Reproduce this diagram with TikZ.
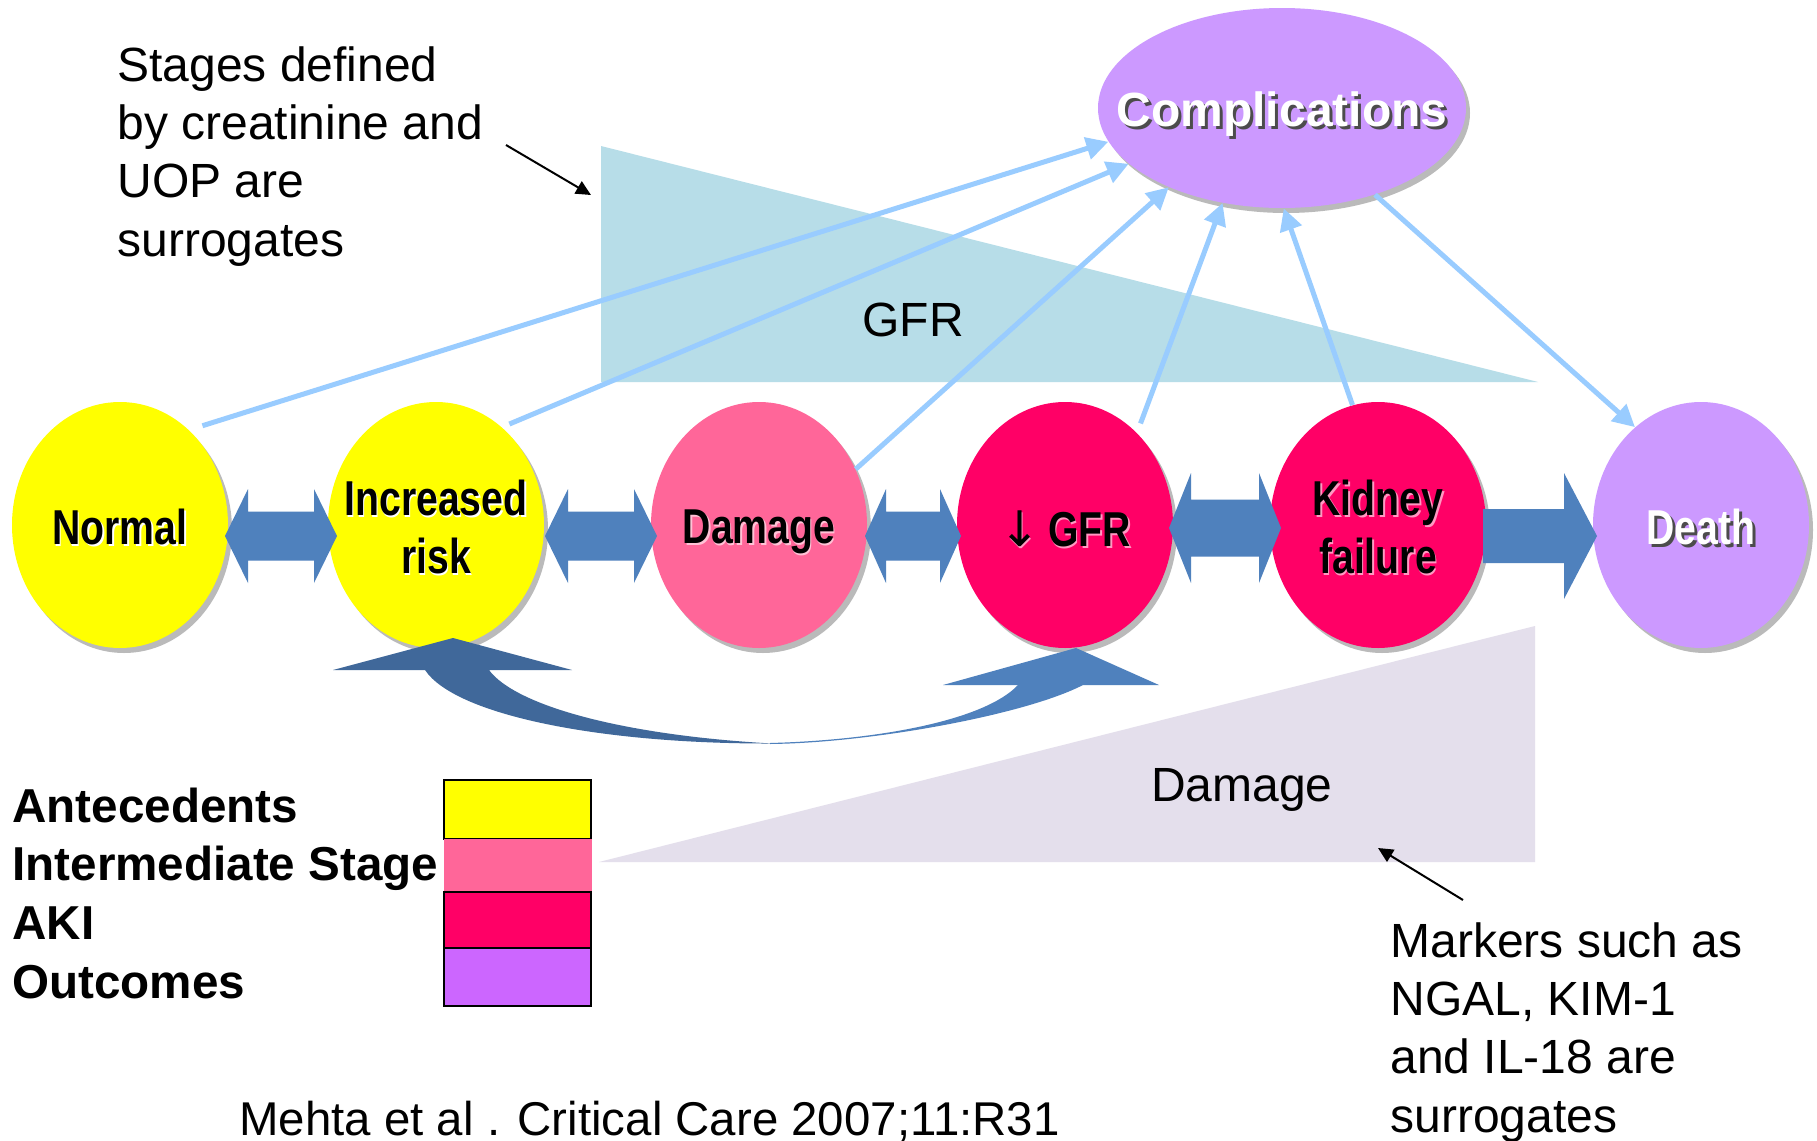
\documentclass[tikz,border=0pt]{standalone}
\usepackage{fontspec}
\setmainfont{Liberation Sans}
\newfontface\nbold[FakeStretch=0.8]{Liberation Sans Bold}
\newfontface\arrowfont{DejaVu Sans}
\usetikzlibrary{arrows.meta,calc,shadows,shapes.geometric}
\definecolor{yellowc}{HTML}{FFFF00}
\definecolor{pinkc}{HTML}{FF6699}
\definecolor{akic}{HTML}{FF0066}
\definecolor{purplec}{HTML}{CC99FF}
\definecolor{legpurple}{HTML}{CC66FF}
\definecolor{fatblue}{HTML}{4F81BD}
\definecolor{darkfat}{HTML}{40689A}
\definecolor{connblue}{HTML}{99CCFF}
\definecolor{gfrtri}{HTML}{B7DDE8}
\definecolor{dmgtri}{HTML}{E4DFEC}
% double fat arrow: #1 left tip, #2 right tip, #3 head length, #4 head half height, #5 shaft half height
\newcommand\dblfat[5]{%
  \fill[fatblue] (#1) -- ($(#1)+(#3,-#4)$) -- ($(#1)+(#3,-#5)$) -- ($(#2)+(-#3,-#5)$)
    -- ($(#2)+(-#3,-#4)$) -- (#2) -- ($(#2)+(-#3,#4)$) -- ($(#2)+(-#3,#5)$)
    -- ($(#1)+(#3,#5)$) -- ($(#1)+(#3,#4)$) -- cycle;}
\begin{document}
\begin{tikzpicture}[x=0.5pt,y=-0.5pt,
  stage/.style={ellipse,inner sep=0pt,minimum width=108pt,minimum height=123pt,
    drop shadow={shadow xshift=2pt,shadow yshift=-2.5pt,fill=black!27,opacity=1}},
  lbl/.style={font=\nbold\fontsize{24.5}{29}\selectfont,align=center,inner sep=0pt},
  conn/.style={draw=connblue,line width=2.5pt,-{Triangle[length=11pt,width=11pt]}},
  ann/.style={draw=black,line width=1pt,-{Triangle[length=7.5pt,width=7pt]}},
  txt/.style={font=\fontsize{24}{29.2}\selectfont,inner sep=0pt,anchor=base west},
  legtxt/.style={font=\bfseries\fontsize{23.8}{29.35}\selectfont,inner sep=0pt,anchor=base west},
  swatch/.style={draw=black,line width=1pt}
]
\fill[white] (0,0) rectangle (1817,1141);
\useasboundingbox (0,0) rectangle (1817,1141);

% background triangles
\fill[gfrtri] (601,146) -- (601,382) -- (1538,382) -- cycle;
\fill[dmgtri] (599,862) -- (1535,626) -- (1535,862) -- cycle;
\node[font=\fontsize{24}{29}\selectfont,inner sep=0pt] (gfrlabel) at (913,320) {GFR};
\node[font=\fontsize{24}{29}\selectfont,inner sep=0pt] (dmglabel) at (1242,790) {Damage};

% stages
\node[stage,fill=yellowc] (normal) at (120,525) {};
\node[stage,fill=yellowc] (incr) at (436,525) {};
\node[stage,fill=pinkc] (dmg) at (759,525) {};
\node[stage,fill=akic] (gfr) at (1065,525) {};
\node[stage,fill=akic] (kid) at (1378,525) {};
\node[stage,fill=purplec] (death) at (1701,525) {};
\node[stage,fill=purplec,minimum width=184pt,minimum height=100pt] (comp) at (1282,108) {};

% stage labels
\node[lbl,text=white] (normal-sh) at ($(normal.center)+(1.5,3.5)$) {Normal};
\node[lbl] (normal-t) at ($(normal.center)+(0,2)$) {Normal};
\node[lbl,text=white] (incr-sh) at ($(incr.center)+(1.5,3.5)$) {Increased\\risk};
\node[lbl] (incr-t) at ($(incr.center)+(0,2)$) {Increased\\risk};
\node[lbl,text=white!60!pinkc] (dmg-sh) at ($(dmg.center)+(1.5,8.5)$) {Damage};
\node[lbl] (dmg-t) at ($(dmg.center)+(0,7)$) {Damage};
\node[lbl,text=white!60!akic] (gfr-sh) at ($(gfr.center)+(1.5,5.5)$) {{\arrowfont ↓}\,GFR};
\node[lbl] (gfr-t) at ($(gfr.center)+(0,4)$) {{\arrowfont ↓}\,GFR};
\node[lbl,text=white!60!akic] (kid-sh) at ($(kid.center)+(1.5,3.5)$) {Kidney\\failure};
\node[lbl] (kid-t) at ($(kid.center)+(0,2)$) {Kidney\\failure};
\node[lbl,text=black!70] (death-sh) at ($(death.center)+(3,5)$) {Death};
\node[lbl,text=white] (death-t) at ($(death.center)+(0,2)$) {Death};
\node[lbl,font=\bfseries\fontsize{24}{29}\selectfont,text=black!70] (comp-sh) at ($(comp.center)+(3,9)$) {Complications};
\node[lbl,font=\bfseries\fontsize{24}{29}\selectfont,text=white] (comp-t) at ($(comp.center)+(0,6)$) {Complications};

% fat horizontal arrows
\coordinate (a1l) at (225,536); \coordinate (a1r) at (337,536);
\coordinate (a2l) at (545,536); \coordinate (a2r) at (657,536);
\coordinate (a3l) at (865,536); \coordinate (a3r) at (961,536);
\coordinate (a4l) at (1169,528); \coordinate (a4r) at (1281,528);
\dblfat{a1l}{a1r}{23}{47}{24.5}
\dblfat{a2l}{a2r}{23}{47}{24.5}
\dblfat{a3l}{a3r}{21}{47}{24.5}
\dblfat{a4l}{a4r}{22}{55}{28.5}
\coordinate (a5t) at (1597,536);
\fill[fatblue] (1483,509) -- (1564,509) -- (1564,473) -- (a5t) -- (1564,599) -- (1564,563) -- (1483,563) -- cycle;

% curved arrow below
\fill[darkfat] (333,670) -- (453,638) -- (572,670) -- (489,670)
  .. controls (515,705) and (620,735) .. (772,743.5)
  .. controls (600,744) and (455,715) .. (425,670) -- cycle;
\fill[fatblue] (770,744) .. controls (870,743) and (1025,715) .. (1083,685)
  -- (1159,685) -- (1076,648) -- (943,685) -- (1018,685)
  .. controls (985,720) and (880,740) .. (770,743) -- cycle;

% connectors to complications
\draw[conn,shorten <=7pt] (normal.54) -- (comp.191);
\draw[conn,shorten <=4pt] (incr.56) -- (comp.200);
\draw[conn] (dmg.30) -- (comp.215);
\draw[conn,shorten <=5pt] (gfr.52) -- (comp.238);
\draw[conn] (kid.102) -- (comp.271);
\draw[conn] (comp.317) -- (death.124);

% annotations
\node[txt] (stages) at (117,81) {\parbox[t]{300pt}{Stages defined\\by creatinine and\\UOP are\\surrogates}};
\coordinate (ann1s) at (506,145); \coordinate (ann1e) at (591,195);
\draw[ann] (ann1s) -- (ann1e);
\node[txt] (markers) at (1390,957) {\parbox[t]{300pt}{Markers such as\\NGAL, KIM-1\\and IL-18 are\\surrogates}};
\coordinate (ann2s) at (1463,900); \coordinate (ann2e) at (1378,848);
\draw[ann] (ann2s) -- (ann2e);
\node[txt,font=\fontsize{23.7}{29}\selectfont] (cite) at (239,1135) {Mehta et al . Critical Care 2007;11:R31};

% legend
\node[legtxt] (legend) at (12,822) {\parbox[t]{300pt}{Antecedents\\Intermediate Stage\\AKI\\Outcomes}};
\draw[swatch,fill=yellowc] (444,780) rectangle (591,839);
\fill[pinkc] (444,839) rectangle (592,892);
\draw[swatch,fill=akic] (444,892) rectangle (591,948);
\draw[swatch,fill=legpurple] (444,948) rectangle (591,1006);
\end{tikzpicture}
\end{document}
